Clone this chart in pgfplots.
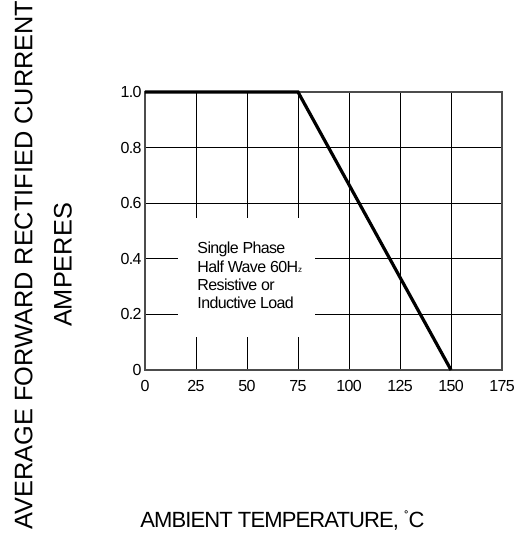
\documentclass[border=0pt]{standalone}
\usepackage{pgfplots}
\pgfplotsset{compat=1.18}
\usepackage{fontspec}
\setmainfont{Liberation Sans}
\newfontfamily\narrowfont[LetterSpace=-4]{Liberation Sans}
\begin{document}
\begin{tikzpicture}
\path[use as bounding box] (-108.75pt,-123.75pt) rectangle (279.75pt,277.5pt);
\begin{axis}[
  scale only axis,
  width=267.75pt, height=208.5pt,
  xmin=0, xmax=175, ymin=0, ymax=1,
  xtick={0,25,50,75,100,125,150,175},
  xticklabels={0,25,50,75,100,125,150,175},
  ytick={0,0.2,0.4,0.6,0.8,1.0},
  yticklabels={0,0.2,0.4,0.6,0.8,1.0},
  major tick length=0pt,
  grid=major,
  major grid style={black, line width=0.7pt},
  axis line style={black!70, line width=0.9pt},
  tick label style={font=\narrowfont\fontsize{12}{14}\selectfont},
  xticklabel style={yshift=-4pt},
  yticklabel style={xshift=1pt},
  clip=false,
]
\fill[white] (axis cs:16.2,0.119) rectangle (axis cs:83.3,0.547);
\addplot[black, line width=2.4pt, line join=miter] coordinates {(0,1) (75,1) (150,0)};
\node[anchor=north west, align=left, font=\narrowfont\fontsize{12}{13.7}\selectfont, inner sep=0pt]
  at (axis cs:25.6,0.46) {Single Phase\\Half Wave 60H{\fontsize{6}{7}\selectfont z}\\Resistive or\\Inductive Load};
\node[anchor=base west, font=\narrowfont\fontsize{16.5}{18}\selectfont, inner sep=0pt]
  at ([shift={(-3.75pt,-117.75pt)}]rel axis cs:0,0) {AMBIENT TEMPERATURE, {\fontsize{10}{10}\selectfont\raisebox{4pt}{˚}}C};
\node[rotate=90, font=\fontsize{19}{21}\selectfont, inner sep=0pt]
  at ([shift={(-91pt,78.75pt)}]rel axis cs:0,0) {AVERAGE FORWARD RECTIFIED CURRENT};
\node[rotate=90, font=\fontsize{19}{21}\selectfont, inner sep=0pt]
  at ([shift={(-61.5pt,78.75pt)}]rel axis cs:0,0) {AMPERES};
\end{axis}
\end{tikzpicture}
\end{document}
